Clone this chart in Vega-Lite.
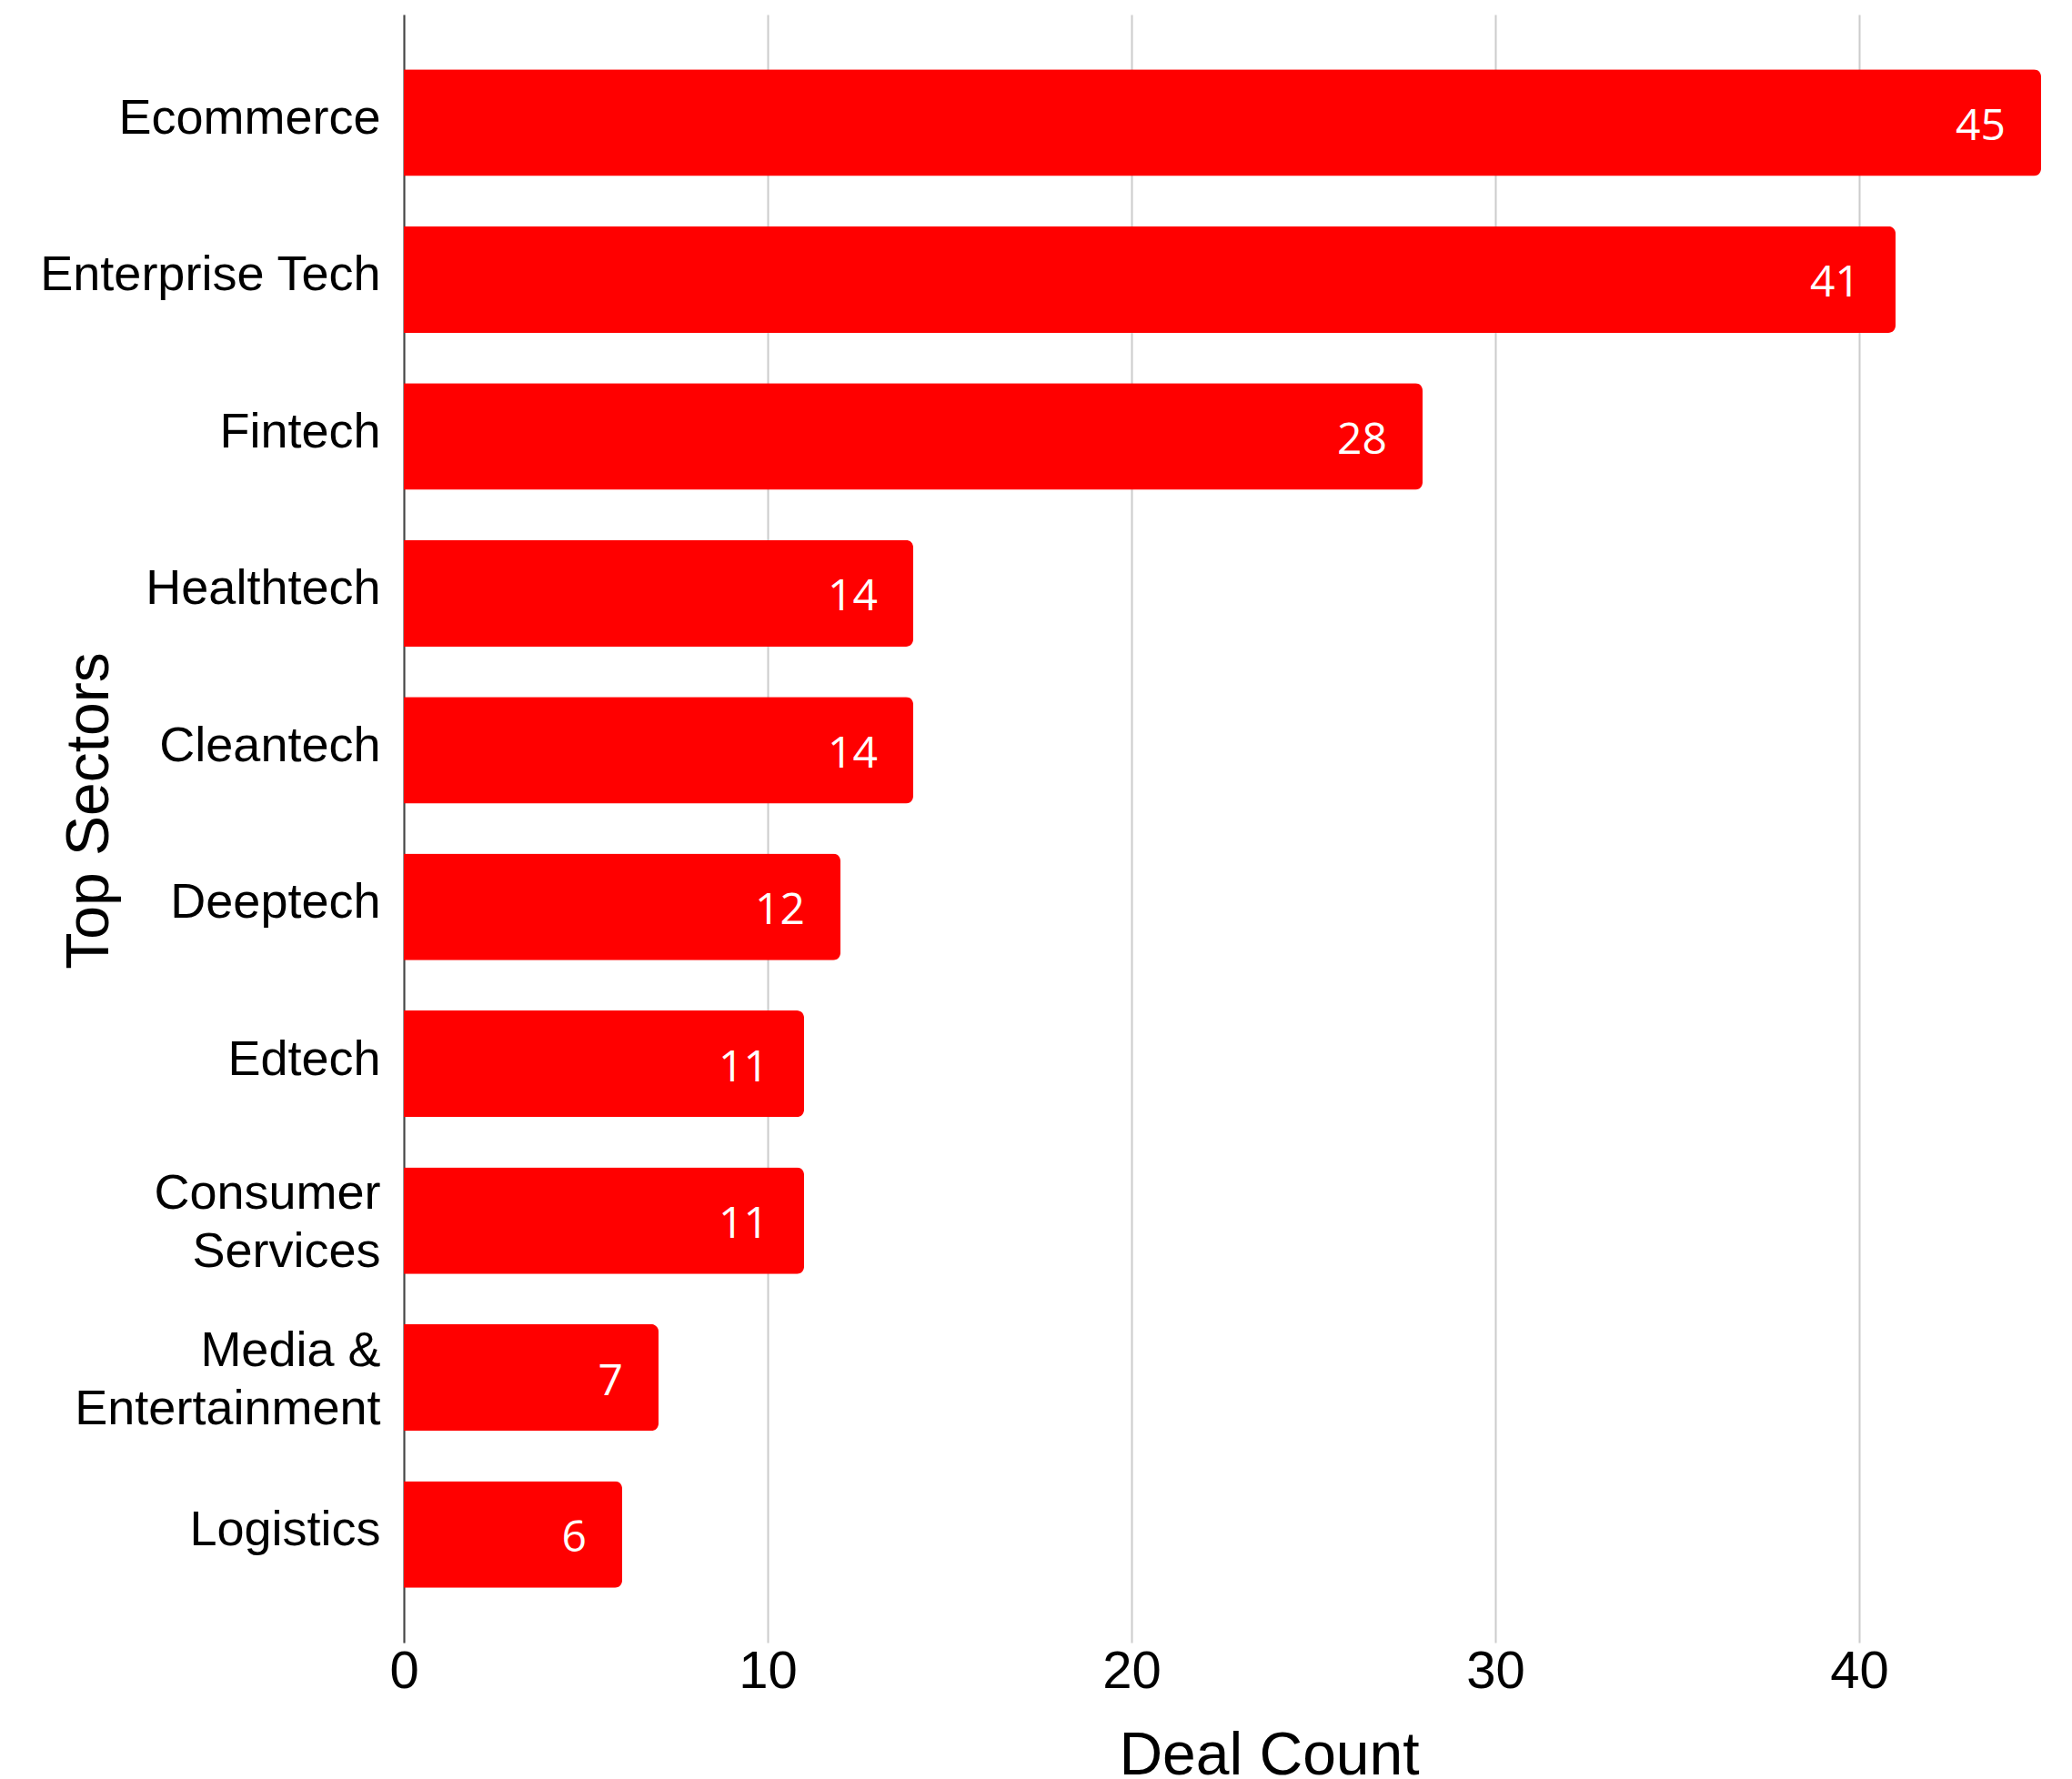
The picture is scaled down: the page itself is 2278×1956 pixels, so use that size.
{
  "$schema": "https://vega.github.io/schema/vega-lite/v6.json",
  "width": 1800,
  "height": 1790,
  "autosize": {"type": "none"},
  "padding": {"left": 444, "top": 16, "right": 34, "bottom": 150},
  "background": "white",
  "data": {
    "values": [
      {"sector": "Ecommerce", "deals": 45},
      {"sector": "Enterprise Tech", "deals": 41},
      {"sector": "Fintech", "deals": 28},
      {"sector": "Healthtech", "deals": 14},
      {"sector": "Cleantech", "deals": 14},
      {"sector": "Deeptech", "deals": 12},
      {"sector": "Edtech", "deals": 11},
      {"sector": "Consumer Services", "deals": 11},
      {"sector": "Media & Entertainment", "deals": 7},
      {"sector": "Logistics", "deals": 6}
    ]
  },
  "config": {
    "view": {"stroke": null},
    "font": "Liberation Sans"
  },
  "encoding": {
    "y": {
      "field": "sector",
      "type": "nominal",
      "sort": null,
      "scale": {"paddingInner": 0.32, "paddingOuter": 0.35},
      "axis": {
        "title": "Top Sectors",
        "titleFontSize": 66,
        "titleFontWeight": "normal",
        "titleColor": "#000000",
        "titleFont": "Liberation Sans",
        "titleAngle": -90,
        "titleX": -326,
        "titleY": 875,
        "titleAlign": "center",
        "titleBaseline": "alphabetic",
        "labelFontSize": 54,
        "labelColor": "#000000",
        "labelFont": "Liberation Sans",
        "labelPadding": 26,
        "labelLineHeight": 64,
        "labelLimit": 0,
        "labelOffset": {
          "condition": {"test": "datum.value == 'Consumer Services' || datum.value == 'Media & Entertainment'", "value": -29},
          "value": -4
        },
        "labelExpr": "datum.label == 'Consumer Services' ? ['Consumer', 'Services'] : datum.label == 'Media & Entertainment' ? ['Media &', 'Entertainment'] : datum.label",
        "ticks": false,
        "domainColor": "#444444",
        "domainWidth": 2,
        "grid": false
      }
    },
    "x": {
      "field": "deals",
      "type": "quantitative",
      "scale": {"domain": [0, 45], "nice": false, "zero": true},
      "axis": {
        "title": "Deal Count",
        "titleFontSize": 66,
        "titleFontWeight": "normal",
        "titleColor": "#000000",
        "titleFont": "Liberation Sans",
        "titleX": 951,
        "titleY": 144,
        "titleAlign": "center",
        "titleBaseline": "alphabetic",
        "values": [0, 10, 20, 30, 40],
        "labelFontSize": 58,
        "labelColor": "#000000",
        "labelFont": "Liberation Sans",
        "labelPadding": 3,
        "labelFlush": false,
        "ticks": false,
        "domain": false,
        "grid": true,
        "gridColor": "#cccccc",
        "gridWidth": 2
      }
    }
  },
  "layer": [
    {
      "mark": {"type": "bar", "color": "#ff0000", "cornerRadiusEnd": 8}
    },
    {
      "mark": {
        "type": "text",
        "align": "right",
        "baseline": "middle",
        "dx": -39,
        "dy": 5,
        "color": "#ffffff",
        "font": "Open Sans",
        "fontSize": 48
      },
      "encoding": {
        "text": {"field": "deals", "type": "quantitative"}
      }
    }
  ]
}
